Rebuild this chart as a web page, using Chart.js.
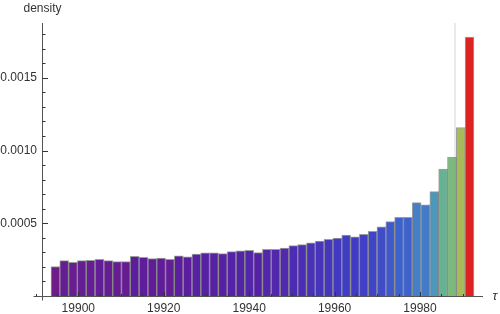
<!DOCTYPE html>
<html>
<head>
<meta charset="utf-8">
<script src="https://cdn.jsdelivr.net/npm/chart.js@4/dist/chart.umd.min.js"></script>
<style>
  html, body { margin: 0; padding: 0; background: #fff; }
</style>
</head>
<body>
<canvas id="densityChart" width="500" height="314"></canvas>
<script>
// histogram bins (years) and the density
const binStart = 1893.6;
const binWidth = 2.063;
const densities = [
  0.000202, 0.000243, 0.000232, 0.000243, 0.000246, 0.000252, 0.000243, 0.000236,
  0.000236, 0.000273, 0.000266, 0.000257, 0.000261, 0.000252, 0.000277, 0.000270,
  0.000289, 0.000296, 0.000296, 0.000291, 0.000305, 0.000310, 0.000314, 0.000298,
  0.000321, 0.000321, 0.000330, 0.000346, 0.000353, 0.000365, 0.000378, 0.000390,
  0.000399, 0.000418, 0.000406, 0.000424, 0.000445, 0.000475, 0.000511, 0.000541,
  0.000541, 0.000642, 0.000626, 0.000718, 0.000872, 0.000954, 0.001158, 0.001780
];
const markerYear = 1988.2;

const xTickValues = [1900, 1920, 1940, 1960, 1980];
const xTickLabels = ['19900', '19920', '19940', '19960', '19980'];
const yTickValues = [0.0005, 0.0010, 0.0015];
const yTickLabels = ['0.0005', '0.0010', '0.0015'];

const FONT = '"Liberation Sans", Arial, sans-serif';
const TEXT = '#333';

// rainbow-ish colour function on bar height
const stops = [
  [0.00, [112, 28, 136]],
  [0.05, [90, 30, 160]],
  [0.13, [64, 58, 196]],
  [0.22, [62, 100, 205]],
  [0.28, [68, 128, 200]],
  [0.33, [76, 152, 185]],
  [0.43, [105, 180, 145]],
  [0.48, [125, 185, 122]],
  [0.61, [168, 187, 88]],
  [0.75, [215, 175, 60]],
  [0.88, [228, 115, 45]],
  [1.00, [221, 34, 34]]
];
function rainbow(t) {
  for (let i = 1; i < stops.length; i++) {
    if (t <= stops[i][0]) {
      const [t0, c0] = stops[i - 1], [t1, c1] = stops[i];
      const f = (t - t0) / (t1 - t0);
      const c = c0.map((v, k) => Math.round(v + (c1[k] - v) * f));
      return `rgb(${c[0]},${c[1]},${c[2]})`;
    }
  }
  return 'rgb(221,34,34)';
}
const dMin = Math.min(...densities), dMax = Math.max(...densities);
const barColors = densities.map(d => rainbow((d - dMin) / (dMax - dMin)));

// axes, ticks and the two axis labels, drawn Mathematica style
const axesPlugin = {
  id: 'mmaAxes',
  afterDatasetsDraw(chart) {
    const { ctx, chartArea, scales: { x, y } } = chart;
    const x0 = Math.round(chartArea.left) + 0.5;
    const y0 = Math.round(y.getPixelForValue(0)) + 0.5;
    ctx.save();
    ctx.lineWidth = 1;
    ctx.strokeStyle = '#555';
    ctx.beginPath();
    ctx.moveTo(x0 - 9, y0); ctx.lineTo(chartArea.right, y0);
    ctx.moveTo(x0, chartArea.top); ctx.lineTo(x0, y0 + 4);
    ctx.stroke();

    ctx.strokeStyle = '#333';
    ctx.beginPath();
    for (let v = 1890; v <= 1990; v += 5) {
      const px = Math.round(x.getPixelForValue(v)) + 0.5;
      const len = xTickValues.includes(v) ? 4.5 : 2.5;
      ctx.moveTo(px, y0); ctx.lineTo(px, y0 - len);
    }
    for (let i = 1; i <= 18; i++) {
      const v = i / 10000;
      const py = Math.round(y.getPixelForValue(v)) + 0.5;
      const len = i % 5 === 0 ? 5.5 : 3;
      ctx.moveTo(x0, py); ctx.lineTo(x0 + len, py);
    }
    ctx.stroke();

    ctx.fillStyle = TEXT;
    ctx.font = '12px ' + FONT;
    ctx.textAlign = 'center';
    ctx.textBaseline = 'middle';
    ctx.fillText('density', x0, 9);
    ctx.font = 'italic 13px ' + FONT;
    ctx.fillText('τ', 495, y0);
    ctx.restore();
  }
};

new Chart(document.getElementById('densityChart'), {
  type: 'bar',
  data: {
    datasets: [{
      type: 'bar',
      data: densities.map((d, i) => ({ x: binStart + binWidth * (i + 0.5), y: d })),
      backgroundColor: barColors,
      borderColor: 'rgba(40,40,40,0.45)',
      borderWidth: 1,
      barPercentage: 1,
      categoryPercentage: 1,
      order: 1
    }, {
      type: 'line',
      data: [{ x: markerYear, y: 0 }, { x: markerYear, y: 0.001877 }],
      borderColor: '#d4d4d4',
      borderWidth: 1,
      pointRadius: 0,
      order: 2
    }]
  },
  options: {
    responsive: false,
    animation: false,
    layout: { padding: { left: 0, right: 17, top: 23, bottom: 0 } },
    plugins: { legend: { display: false }, tooltip: { enabled: false } },
    scales: {
      x: {
        type: 'linear',
        offset: false,
        min: 1891.5,
        max: 1994.75,
        afterBuildTicks: s => { s.ticks = xTickValues.map(v => ({ value: v })); },
        afterFit: s => { s.height = 18; },
        ticks: {
          callback: v => xTickLabels[xTickValues.indexOf(v)],
          font: { size: 12, family: FONT },
          color: TEXT,
          maxRotation: 0,
          autoSkip: false,
          padding: 5
        },
        grid: { display: false, drawTicks: false, tickLength: 0 },
        border: { display: false }
      },
      y: {
        min: 0,
        max: 0.001877,
        afterBuildTicks: s => { s.ticks = yTickValues.map(v => ({ value: v })); },
        afterFit: s => { s.width = 42; },
        ticks: {
          callback: v => yTickLabels[yTickValues.indexOf(v)],
          font: { size: 12, family: FONT },
          color: TEXT,
          padding: 5
        },
        grid: { display: false, drawTicks: false, tickLength: 0 },
        border: { display: false }
      }
    }
  },
  plugins: [axesPlugin]
});
</script>
</body>
</html>
